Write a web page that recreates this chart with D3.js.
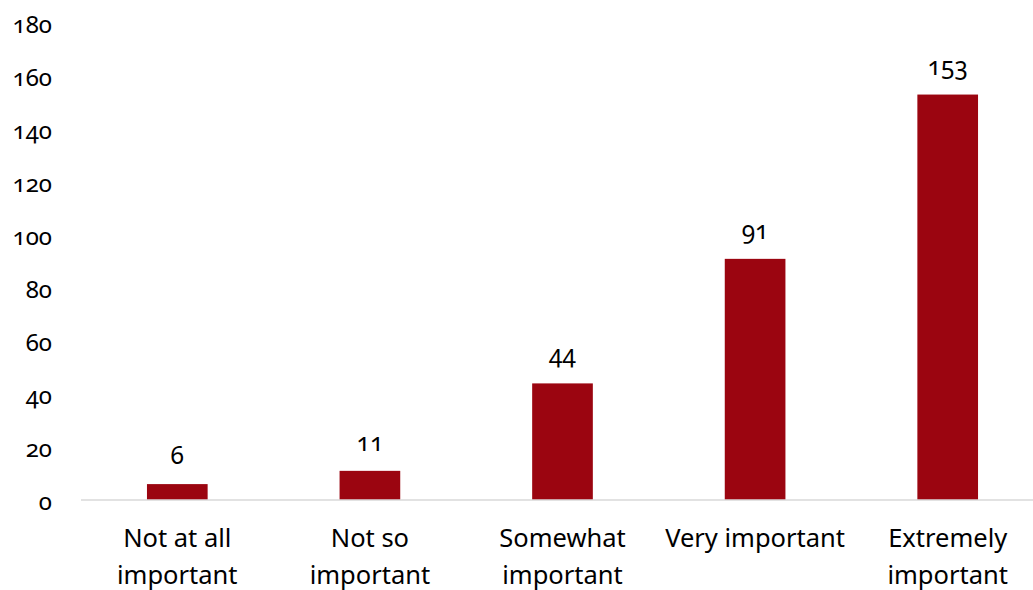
<!DOCTYPE html>
<html>
<head>
<meta charset="utf-8">
<script src="https://cdn.jsdelivr.net/npm/d3@7"></script>
<style>
  body { margin: 0; background: #fff; }
  svg text { font-family: "Noto Sans", sans-serif; font-variant-numeric: oldstyle-nums; fill: #000; }
</style>
</head>
<body>
<script>
const w = 1033;
const h = 590;

// data
const categories = [["Not at all", "important"], ["Not so", "important"], ["Somewhat", "important"], ["Very important"], ["Extremely", "important"]];
const values = [6, 11, 44, 91, 153];
const yTicks = [0, 20, 40, 60, 80, 100, 120, 140, 160, 180];

const plotLeft = 81, plotRight = 1044, plotBase = 500, plotTop = 23;

const xScale = d3.scaleBand()
  .domain(d3.range(values.length))
  .range([plotLeft, plotRight])
  .paddingInner(0.685)
  .paddingOuter(0.3425);

const yScale = d3.scaleLinear()
  .domain([0, 180])
  .range([plotBase, plotTop]);

const svg = d3.select("body")
  .append("svg")
  .attr("width", w)
  .attr("height", h);

// y tick labels (no axis line)
const yAxis = d3.axisLeft(yScale).tickValues(yTicks).tickSize(0).tickPadding(0);
const gy = svg.append("g")
  .attr("transform", "translate(52,0)")
  .call(yAxis);
gy.select(".domain").remove();
gy.attr("font-family", null).attr("font-size", null);
gy.selectAll("text")
  .attr("font-size", 24)
  .attr("dy", "0.4em")
  .attr("fill", "#000");

// bars
svg.selectAll("rect.bar")
  .data(values)
  .enter()
  .append("rect")
  .attr("class", "bar")
  .attr("x", (d, i) => xScale(i))
  .attr("width", xScale.bandwidth())
  .attr("y", d => yScale(d))
  .attr("height", d => yScale(0) - yScale(d))
  .attr("fill", "#9b0510");

// baseline
svg.append("line")
  .attr("x1", plotLeft)
  .attr("x2", w)
  .attr("y1", yScale(0))
  .attr("y2", yScale(0))
  .attr("stroke", "#d9d9d9")
  .attr("stroke-width", 1.5);

// value labels
svg.selectAll("text.val")
  .data(values)
  .enter()
  .append("text")
  .attr("class", "val")
  .attr("x", (d, i) => xScale(i) + xScale.bandwidth() / 2)
  .attr("y", d => yScale(d) - 20)
  .attr("text-anchor", "middle")
  .attr("font-size", 24.5)
  .text(d => d);

// category labels
const cat = svg.selectAll("text.cat")
  .data(categories)
  .enter()
  .append("text")
  .attr("class", "cat")
  .attr("x", (d, i) => xScale(i) + xScale.bandwidth() / 2)
  .attr("y", 547)
  .attr("text-anchor", "middle")
  .attr("font-size", 25.5);

cat.selectAll("tspan")
  .data(d => d)
  .enter()
  .append("tspan")
  .attr("x", function() { return d3.select(this.parentNode).attr("x"); })
  .attr("dy", (d, i) => i === 0 ? 0 : 37)
  .text(d => d);
</script>
</body>
</html>
